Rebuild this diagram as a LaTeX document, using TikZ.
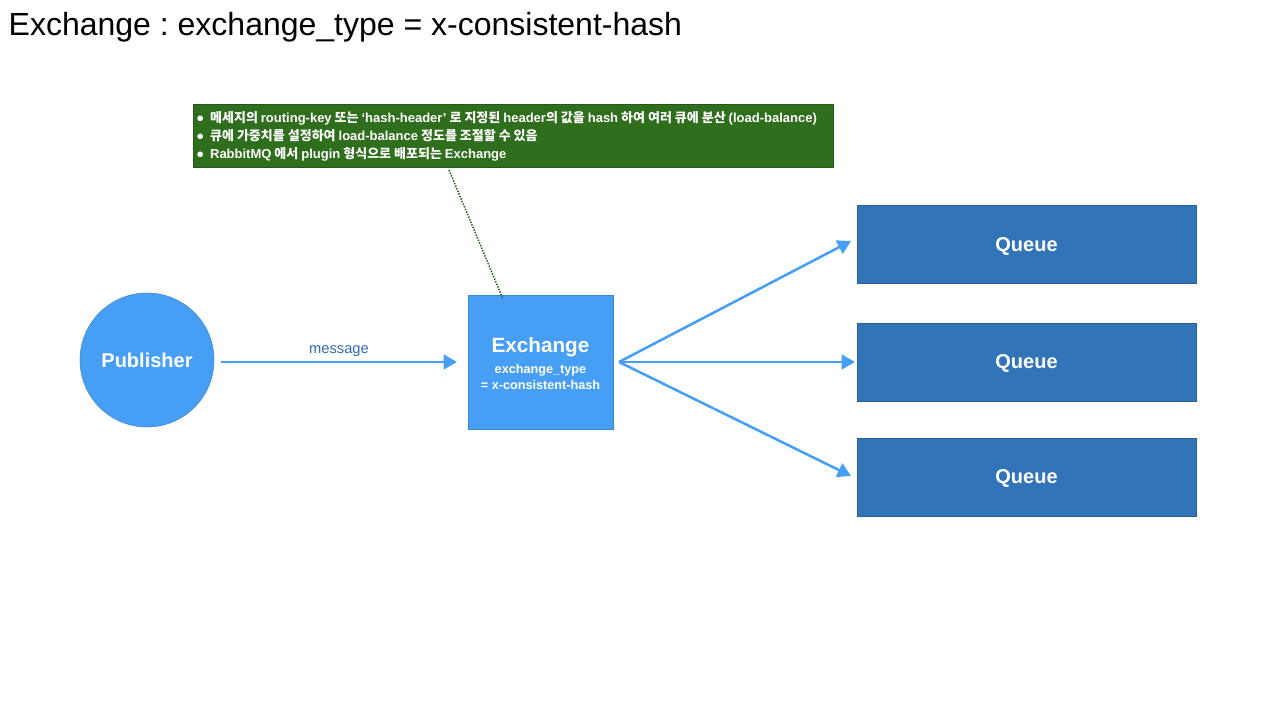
\documentclass[tikz,border=0pt]{standalone}
\usepackage{fontspec}
\setmainfont{Liberation Sans}
\newfontfamily\kr{Noto Sans CJK KR}
\usetikzlibrary{arrows.meta}
\definecolor{pubblue}{HTML}{479FF5}
\definecolor{qfill}{HTML}{3274B8}
\definecolor{qdraw}{HTML}{2B5F99}
\definecolor{noteg}{HTML}{2E6E1C}
\definecolor{arrblue}{HTML}{479FF5}
\definecolor{msgblue}{HTML}{2E6DB4}
\newcommand{\lat}[1]{{\fontspec{Liberation Sans}\bfseries #1}}
\frenchspacing
\begin{document}
\begin{tikzpicture}[x=0.75pt,y=-0.75pt,
  queuebox/.style={draw=qdraw,fill=qfill,minimum width=339*0.75pt,minimum height=78*0.75pt,inner sep=0pt,text=white,font=\fontsize{15}{18}\selectfont\bfseries,text depth=-1.5pt},
  conn/.style={draw=arrblue,line width=1.9pt,-{Triangle[length=10pt,width=11pt]}},
  ]
\useasboundingbox[fill=white] (0,0) rectangle (1280,720);
\node[anchor=west,font=\fontsize{24}{28}\selectfont] (title) at (4,27) {Exchange : exchange\_type = x-consistent-hash};
\node[circle,fill=pubblue,draw=pubblue!85!black,minimum size=134*0.75pt,inner sep=0pt,text=white,font=\fontsize{15}{18}\selectfont\bfseries] (pub) at (147,360) {Publisher};
\node[rectangle,fill=pubblue,draw=pubblue!85!black,minimum width=145*0.75pt,minimum height=134*0.75pt,inner sep=0pt] (ex) at (540.5,362) {};
\node[text=white,font=\fontsize{15.5}{18}\selectfont\bfseries,inner sep=0pt] (extitle) at (540.5,347) {Exchange};
\node[text=white,align=center,font=\fontsize{9.5}{12}\selectfont\bfseries,inner sep=0pt] (exsub) at (540.5,377) {exchange\_type\\= x-consistent-hash};
\node[queuebox] (q1) at (1026.5,244.5) {Queue};
\node[queuebox] (q2) at (1026.5,362) {Queue};
\node[queuebox] (q3) at (1026.5,477) {Queue};
\node[rectangle,fill=noteg,draw=noteg!80!black,minimum width=640*0.75pt,minimum height=63*0.75pt,inner sep=0pt,anchor=north west] (note) at (193,104) {};
\node[anchor=north west,text=white,align=left,font=\fontsize{9.75}{13.5}\selectfont\bfseries\kr,inner sep=0pt] (notetext) at (196,111) {%
{\fontspec{Liberation Sans}●}\hspace{4.5pt}메세지의 \lat{routing-key} 또는 \lat{‘hash-header’} 로 지정된 \lat{header}의 값을 \lat{hash} 하여 여러 큐에 분산 \lat{(load-balance)}\\
{\fontspec{Liberation Sans}●}\hspace{4.5pt}큐에 가중치를 설정하여 \lat{load-balance} 정도를 조절할 수 있음\\
{\fontspec{Liberation Sans}●}\hspace{4.5pt}\lat{RabbitMQ} 에서 \lat{plugin} 형식으로 배포되는 \lat{Exchange}};
\coordinate (nA) at (449,170);
\coordinate (nB) at (503,299);
\draw[noteg!80!black,densely dotted,line width=1.1pt] (nA) -- (nB);
\coordinate (pa) at (221,362);
\coordinate (pb) at (457,362);
\draw[conn] (pa) -- (pb) node[midway,above,text=msgblue,font=\fontsize{11}{13}\selectfont,yshift=-0.5pt] {message};
\coordinate (fan) at (619,362);
\draw[conn] (fan) -- (851,241);
\draw[conn] (fan) -- (855,362);
\draw[conn] (fan) -- (851,476);
\end{tikzpicture}
\end{document}
